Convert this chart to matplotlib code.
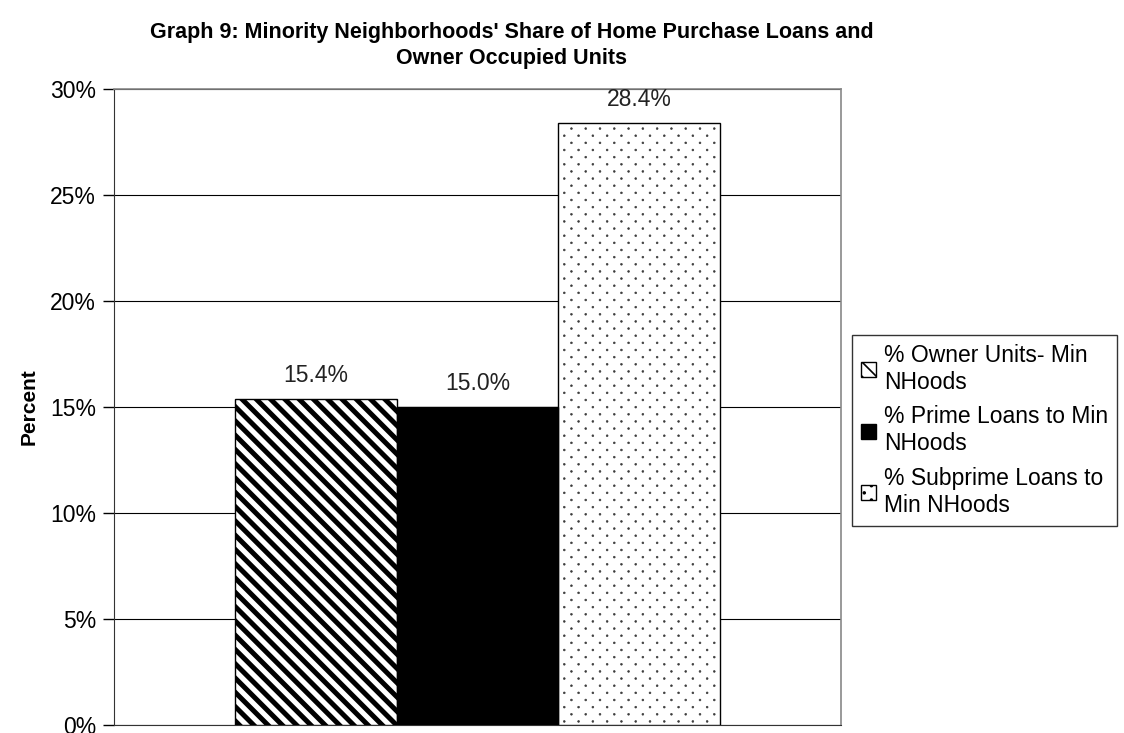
import matplotlib
matplotlib.use('Agg')
import numpy as np
import matplotlib.pyplot as plt
from matplotlib import hatch as mhatch
from matplotlib.path import Path
from matplotlib.patches import Patch

plt.rcParams['font.family'] = ['Liberation Sans', 'DejaVu Sans']

# data
series_labels = ['% Owner Units- Min\nNHoods',
                 '% Prime Loans to Min\nNHoods',
                 '% Subprime Loans to\nMin NHoods']
values = [15.4, 15.0, 28.4]
value_text = ['15.4%', '15.0%', '28.4%']
yticks = [0, 5, 10, 15, 20, 25, 30]

hatches = ['\\', '', '.']
faces = ['white', 'black', 'white']
hatch_cols = ['black', 'black', '#3a3a3a']
hatch_lw = [3.6, 1.0, 0.45]


# --- Excel-like fill patterns (slightly denser than the stock hatches) ---
class FineStripes(mhatch.SouthEastHatch):
    def __init__(self, hatch, density):
        super().__init__(hatch, density)
        if self.num_lines:
            self.num_lines = 14
            self.num_vertices = (self.num_lines + 1) * 2


class DiagDots(mhatch.HatchPatternBase):
    ncols = 7
    radius = 0.009

    def __init__(self, hatch, density):
        circ = Path.unit_circle()
        self.shape_vertices = circ.vertices
        self.shape_codes = circ.codes
        if '.' in hatch:
            self.nrows = 2 * self.ncols
            self.num_shapes = ((self.nrows // 2 + 1) * (self.ncols + 1)
                               + (self.nrows // 2) * self.ncols)
            self.num_vertices = self.num_shapes * len(self.shape_vertices)
        else:
            self.num_vertices = 0

    def set_vertices_and_codes(self, vertices, codes):
        dx = 1.0 / self.ncols
        dy = 1.0 / self.nrows
        sv = self.shape_vertices * self.radius
        vparts, cparts = [], []
        for row in range(self.nrows + 1):
            if row % 2 == 0:
                cols = np.linspace(0, 1, self.ncols + 1)
            else:
                cols = np.linspace(dx / 2, 1 - dx / 2, self.ncols)
            for c in cols:
                vparts.append(sv + [c, row * dy])
                cparts.append(self.shape_codes)
        np.concatenate(vparts, out=vertices)
        np.concatenate(cparts, out=codes)


mhatch._hatch_types = [FineStripes if t is mhatch.SouthEastHatch else
                       DiagDots if t is mhatch.SmallFilledCircles else t
                       for t in mhatch._hatch_types]

fig = plt.figure(figsize=(11.24, 7.33), dpi=100)
ax = fig.add_axes([0.1014, 0.0109, 0.6468, 0.8677])

for i, v in enumerate(values):
    plt.rcParams['hatch.linewidth'] = hatch_lw[i]
    # hatch layer, hatch colour comes from edgecolor
    bars = ax.bar(i, v, width=1.0, color=faces[i], edgecolor=hatch_cols[i],
                  linewidth=0, hatch=hatches[i], zorder=3)
    for b in bars:
        try:
            b.set_hatch_linewidth(hatch_lw[i])
        except AttributeError:
            pass
    # outline
    ax.bar(i, v, width=1.0, fill=False, edgecolor='black', linewidth=1.0,
           zorder=3.5)
    ax.text(i, v + 0.55, value_text[i], ha='center', va='bottom',
            fontsize=16.5, color='#222222', zorder=4)

ax.set_xlim(-1.25, 3.25)
ax.set_ylim(0, 30)
ax.set_yticks(yticks)
ax.set_yticklabels([f'{t}%' for t in yticks], fontsize=16.5)
ax.set_xticks([])
ax.tick_params(axis='y', direction='out', length=8, width=1, pad=5)
ax.yaxis.grid(True, color='black', linewidth=0.8, zorder=0)
ax.set_axisbelow(True)
for side in ['top', 'right']:
    ax.spines[side].set_color('#888888')
    ax.spines[side].set_linewidth(1.2)
ax.spines['left'].set_color('#333333')
ax.spines['bottom'].set_color('#333333')

fig.text(0.026, 0.445, 'Percent', rotation=90, ha='center', va='center',
         fontsize=15, fontweight='bold')

fig.text(0.455, 0.938, "Graph 9: Minority Neighborhoods' Share of Home Purchase Loans and\nOwner Occupied Units",
         ha='center', va='center', fontsize=15.5, fontweight='bold', linespacing=1.3)

# legend - thicker hatch lines in the small swatches
leg_lw = [2.2, 1.0, 1.2]
handles = []
for i in range(len(values)):
    plt.rcParams['hatch.linewidth'] = leg_lw[i]
    h = Patch(facecolor=faces[i], edgecolor='black', hatch=hatches[i],
              linewidth=1.0)
    try:
        h.set_hatch_linewidth(leg_lw[i])
    except AttributeError:
        pass
    handles.append(h)

leg = ax.legend(handles, series_labels, loc='center left',
                bbox_to_anchor=(0.758, 0.413),
                bbox_transform=fig.transFigure, fontsize=16.5, frameon=True,
                fancybox=False, edgecolor='black', handlelength=0.65,
                handleheight=0.65, handletextpad=0.35, labelspacing=0.52,
                borderpad=0.4, borderaxespad=0)
leg.get_frame().set_linewidth(1.0)

fig.savefig('out.png', dpi=100, facecolor='white')
